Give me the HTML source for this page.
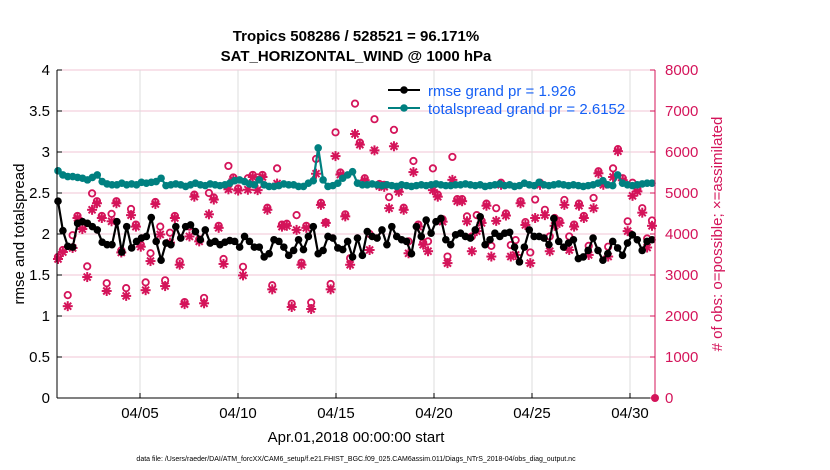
<!DOCTYPE html>
<html><head><meta charset="utf-8"><style>
body{margin:0;background:#fff;}
svg{display:block;font-family:"Liberation Sans",sans-serif;}
</style></head><body>
<svg id="chart" width="830" height="470" viewBox="0 0 830 470">
<g id="grid"></g>
<g id="marks"></g>
<g id="axes"></g>
<text x="356" y="41" text-anchor="middle" font-size="15" font-weight="bold">Tropics 508286 / 528521 = 96.171%</text>
<text x="356" y="61" text-anchor="middle" font-size="15" font-weight="bold">SAT_HORIZONTAL_WIND @ 1000 hPa</text>
<text transform="translate(24,234) rotate(-90)" text-anchor="middle" font-size="15">rmse and totalspread</text>
<text transform="translate(722,234) rotate(-90)" text-anchor="middle" font-size="15" fill="#d4145a"># of obs: o=possible; ×=assimilated</text>
<text x="356" y="442" text-anchor="middle" font-size="15">Apr.01,2018 00:00:00 start</text>
<text x="356" y="461" text-anchor="middle" font-size="7">data file: /Users/raeder/DAI/ATM_forcXX/CAM6_setup/f.e21.FHIST_BGC.f09_025.CAM6assim.011/Diags_NTrS_2018-04/obs_diag_output.nc</text>
<g>
<line x1="388" y1="90" x2="420" y2="90" stroke="#000" stroke-width="2"/><circle cx="404" cy="90" r="3.8" fill="#000"/>
<text x="428" y="96" font-size="15" fill="#1560f5">rmse grand pr = 1.926</text>
<line x1="388" y1="108" x2="420" y2="108" stroke="#008080" stroke-width="2"/><circle cx="404" cy="108" r="3.8" fill="#008080"/>
<text x="428" y="114" font-size="15" fill="#1560f5">totalspread grand pr = 2.6152</text>
</g>
</svg>
<script>
const rmse=[2.40,2.04,1.85,1.84,2.13,2.15,2.13,2.09,2.05,1.90,1.87,1.87,2.15,1.78,2.09,1.83,1.91,1.95,1.97,2.20,1.91,1.68,1.89,1.87,2.09,1.95,2.09,2.11,2.03,1.93,2.05,1.89,1.91,1.87,1.90,1.92,1.91,1.84,1.97,1.91,1.84,
1.84,1.72,1.76,1.93,1.91,1.84,1.74,1.80,1.93,1.81,1.97,2.09,1.76,1.80,1.97,1.95,1.83,1.81,1.91,1.72,1.95,1.74,2.03,1.97,1.95,2.05,1.87,2.09,1.97,1.93,1.91,1.76,2.09,1.97,2.17,2.01,2.15,2.19,1.93,1.87,1.99,
2.01,1.97,1.95,2.05,2.21,1.87,1.93,2.01,1.97,2.01,2.02,1.84,1.66,1.84,2.05,1.97,1.97,1.95,1.87,2.19,1.91,1.84,1.89,1.93,1.70,1.72,1.80,1.95,1.80,1.68,1.76,1.91,1.83,1.74,1.89,1.99,1.93,1.80,1.91,1.93];
const spread=[2.77,2.72,2.70,2.70,2.69,2.68,2.66,2.69,2.72,2.64,2.61,2.60,2.60,2.62,2.60,2.61,2.60,2.63,2.62,2.63,2.64,2.68,2.59,2.60,2.61,2.60,2.58,2.60,2.62,2.60,2.59,2.61,2.60,2.59,2.60,2.62,2.65,2.66,2.64,2.61,2.60,
2.66,2.60,2.58,2.58,2.59,2.61,2.60,2.60,2.58,2.58,2.62,2.65,3.05,2.66,2.58,2.59,2.62,2.68,2.72,2.76,2.62,2.60,2.60,2.61,2.60,2.59,2.60,2.59,2.58,2.60,2.59,2.58,2.59,2.60,2.59,2.60,2.61,2.60,2.59,2.59,2.60,
2.60,2.61,2.60,2.59,2.60,2.58,2.59,2.60,2.61,2.59,2.60,2.58,2.59,2.62,2.60,2.59,2.63,2.60,2.59,2.60,2.61,2.60,2.59,2.60,2.59,2.58,2.59,2.60,2.62,2.65,2.60,2.59,2.72,2.62,2.60,2.59,2.60,2.61,2.62,2.62];
const assimilated=[3390,3560,2240,3660,4390,4120,2950,4590,4750,4390,2610,4310,4750,3550,2490,4460,4180,3690,2630,3340,4730,3990,2730,3790,4390,3250,2290,3940,4910,3820,2310,4480,4840,4150,3270,5090,5330,5060,2990,5080,5390,
5070,5390,4590,2650,5230,4180,4200,2220,4100,3250,4150,2170,5470,4710,4270,2650,5900,5450,4430,3250,6440,6180,5310,3610,6040,5170,5150,4630,6140,5030,4590,3530,5510,4180,3740,3580,5070,4910,4300,3290,5320,4800,
4800,4310,3580,4070,4270,4690,3450,4320,5200,4450,3450,3490,4750,4220,3290,4390,5200,4460,3580,4200,4270,4710,3610,4180,4690,4390,3490,4630,5480,5200,3450,5390,6020,5310,4070,4930,5040,4520,3670,4200];
const possible=[3440,3610,2510,3970,4440,4170,3210,4990,4800,4440,2800,4490,4800,3600,2680,4610,4230,3740,2820,3530,4780,4180,2870,4030,4440,3330,2340,4180,4960,3870,2440,5000,4890,4200,3390,5660,5380,5110,3200,5360,5440,
5380,5440,4640,2750,5600,4230,4250,2300,4460,3300,4200,2330,5830,4760,4280,2780,6480,5500,4480,3410,7180,6230,5360,4000,6800,5220,5200,4900,6540,5080,4640,3820,5780,4230,3790,3820,5600,4960,4360,3450,5880,4850,
4850,4430,3940,4460,4320,4740,3710,4630,5250,4500,3730,3850,4800,4290,3550,4840,5250,4590,3940,4390,4320,4830,3940,4230,4740,4440,3710,4880,5530,5250,3690,5600,6070,5360,4310,5250,5090,4630,3890,4330];
const leftTicks=[0,0.5,1,1.5,2,2.5,3,3.5,4];
const leftTickLabels=["0","0.5","1","1.5","2","2.5","3","3.5","4"];
const rightTicks=[0,1000,2000,3000,4000,5000,6000,7000,8000];
const dateTicks=[4,9,14,19,24,29];
const dateLabels=["04/05","04/10","04/15","04/20","04/25","04/30"];

const NS="http://www.w3.org/2000/svg";
const X0=57,X1=655,Y0=398,Y1=70;
const yL=v=>Y0-(v/4)*(Y0-Y1);
const yR=v=>Y0-(v/8000)*(Y0-Y1);
const xDay=d=>140+(d-4)*19.6;
const xIdx=(i,n)=>58+i*(594/(n-1));
function mk(tag,attrs,parent){const e=document.createElementNS(NS,tag);for(const k in attrs)e.setAttribute(k,attrs[k]);parent.appendChild(e);return e;}
const grid=document.getElementById('grid'),marks=document.getElementById('marks'),axes=document.getElementById('axes');
mk('rect',{x:X0,y:Y1,width:X1-X0,height:Y0-Y1,fill:'#fff'},grid);
leftTicks.forEach(v=>{const l=mk('line',{x1:X0,x2:X1,y1:yL(v),y2:yL(v),stroke:'#f2c4d6','stroke-width':1},grid);

});
dateTicks.forEach(d=>{const l=mk('line',{x1:xDay(d),x2:xDay(d),y1:Y1,y2:Y0,stroke:'#dcdcdc','stroke-width':1},grid);

});
function star(cx,cy){const g=mk('g',{stroke:'#d4145a','stroke-width':2},marks);


const r=5;mk('line',{x1:cx-r,x2:cx+r,y1:cy,y2:cy},g);mk('line',{x1:cx,x2:cx,y1:cy-r,y2:cy+r},g);
mk('line',{x1:cx-3.5,x2:cx+3.5,y1:cy-3.5,y2:cy+3.5},g);mk('line',{x1:cx-3.5,x2:cx+3.5,y1:cy+3.5,y2:cy-3.5},g);}
possible.forEach((v,i)=>{const c=mk('circle',{cx:xIdx(i,possible.length),cy:yR(v),r:3.2,fill:'none',stroke:'#d4145a','stroke-width':1.8},marks);

});
assimilated.forEach((v,i)=>star(xIdx(i,assimilated.length),yR(v)));
function series(arr,color,name){const pts=arr.map((v,i)=>xIdx(i,arr.length).toFixed(1)+','+yL(v).toFixed(1)).join(' ');
const p=mk('polyline',{points:pts,fill:'none',stroke:color,'stroke-width':2.2},marks);


arr.forEach((v,i)=>{const c=mk('circle',{cx:xIdx(i,arr.length),cy:yL(v),r:3.8,fill:color},marks);

});}
series(spread,'#008080','totalspread');
series(rmse,'#000000','rmse');
mk('line',{x1:X0,x2:X0,y1:Y1,y2:Y0,stroke:'#000','stroke-width':1},axes);
mk('line',{x1:X0,x2:X1,y1:Y0,y2:Y0,stroke:'#000','stroke-width':1},axes);
mk('line',{x1:X1,x2:X1,y1:Y1,y2:Y0,stroke:'#d4145a','stroke-width':1},axes);
leftTicks.forEach((v,i)=>{mk('line',{x1:X0,x2:X0+5,y1:yL(v),y2:yL(v),stroke:'#000'},axes);
const t=mk('text',{x:X0-7,y:yL(v)+5,'text-anchor':'end','font-size':15},axes);t.textContent=leftTickLabels[i];

});
rightTicks.forEach(v=>{mk('line',{x1:X1-5,x2:X1,y1:yR(v),y2:yR(v),stroke:'#d4145a'},axes);
const t=mk('text',{x:X1+10,y:yR(v)+5,'font-size':15,fill:'#d4145a'},axes);t.textContent=String(v);

});
dateTicks.forEach((d,i)=>{mk('line',{x1:xDay(d),x2:xDay(d),y1:Y0,y2:Y0-5,stroke:'#000'},axes);
const t=mk('text',{x:xDay(d),y:Y0+20,'text-anchor':'middle','font-size':15},axes);t.textContent=dateLabels[i];

});
const z=mk('circle',{cx:X1,cy:Y0,r:4,fill:'#d4145a'},axes);


</script>
</body></html>
